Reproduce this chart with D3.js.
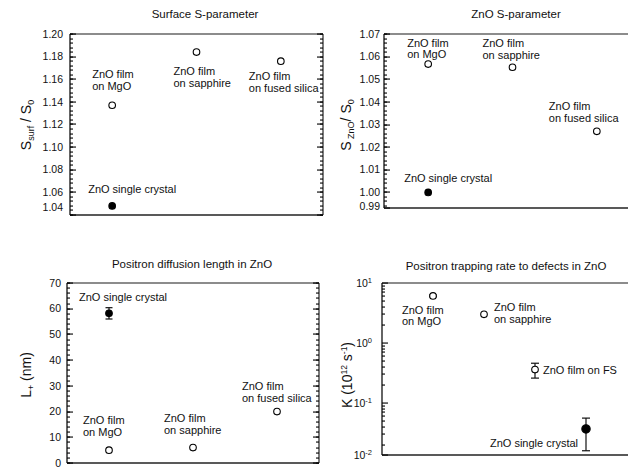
<!DOCTYPE html>
<html lang="en">
<head>
<meta charset="UTF-8">
<title>ZnO positron panels</title>
<style>
    body { margin: 0; background: #fff; }
    text { font-family: "Liberation Sans", Arial, sans-serif; fill: #111; }
    .title { font-size: 11.5px; }
    .ticklbl { font-size: 10.5px; }
    .lbl { font-size: 11px; }
    .ytitle { font-size: 14px; }
</style>
</head>
<body>
<div id="container"></div>
<script src="https://cdn.jsdelivr.net/npm/d3@7"></script>
<script>

// films, left to right
var films = ["ZnO film on MgO", "ZnO film on sapphire", "ZnO film on fused silica"];

// surface S-parameter (S_surf / S_0)
var surfS = [1.137, 1.184, 1.176];
var surfSErr = [0.0010, 0.0010, 0.0010];
var surfSCrystal = 1.048;

// ZnO S-parameter (S_ZnO / S_0)
var znoS = [1.0567, 1.0553, 1.027];
var znoSErr = [0.0006, 0.0006, 0.0006];
var znoSCrystal = 1.000;

// positron diffusion length (nm)
var diffLen = [5, 6, 20];
var diffLenCrystal = 58.2;
var diffLenCrystalErr = 2.2;

// trapping rate (10^12 s^-1), columns: MgO, sapphire, FS, single crystal
var trapCols = ["MgO", "sapphire", "FS", "crystal"];
var trapRate = [6.1, 3.0, 0.36, 0.037];
var trapLow = [5.9, 2.85, 0.26, 0.016];
var trapHigh = [6.3, 3.15, 0.46, 0.056];

// tick labels
var surfTicks = [1.04, 1.06, 1.08, 1.10, 1.12, 1.14, 1.16, 1.18, 1.20];
var znoTicks = [0.99, 1.00, 1.01, 1.02, 1.03, 1.04, 1.05, 1.06, 1.07];
var diffTicks = [0, 10, 20, 30, 40, 50, 60, 70];
var trapTicks = [0.01, 0.1, 1, 10];

var svg = d3.select("#container").append("svg")
    .attr("width", 628).attr("height", 470);

// tick marks go in their own layer, drawn last
var tickJobs = [];

// inward ticks on a vertical edge as thin rects; dir = +1 points right, -1 points left
function ticksAt(g, xEdge, yPos, values, len, dir) {
    values.forEach(function (d) {
        var yy = Math.round(yPos(d));
        g.append("rect")
            .attr("x", dir > 0 ? xEdge : xEdge - len)
            .attr("y", yy - 0.5)
            .attr("width", len)
            .attr("height", 1.1)
            .attr("fill", "#000");
    });
}

function hline(g, x1, x2, y, color, w) {
    g.append("line").attr("x1", x1).attr("x2", x2).attr("y1", y).attr("y2", y)
        .attr("stroke", color).attr("stroke-width", w);
}
function vline(g, x, y1, y2, color, w) {
    g.append("line").attr("x1", x).attr("x2", x).attr("y1", y1).attr("y2", y2)
        .attr("stroke", color).attr("stroke-width", w);
}

// generic frame + y axis
function drawFrame(p) {
    var g = svg.append("g");
    var clampY = function (v) { return Math.min(p.y(v), p.bottom); };
    var inside = function (v) { return p.y(v) <= p.bottom + 0.5 && p.y(v) >= p.top - 0.5; };
    var minor = p.minor.filter(inside);
    var rawY = function (d) { return p.y(d); };

    tickJobs.push([p.left, rawY, minor, 3, 1]);
    tickJobs.push([p.left, clampY, p.ticks, 6, 1]);
    if (p.rightAxis) {
        tickJobs.push([p.right, rawY, minor, 3, -1]);
        tickJobs.push([p.right, clampY, p.ticks, 6, -1]);
    }

    // tick labels
    var lbl = g.selectAll(null).data(p.ticks).enter().append("text")
        .attr("class", "ticklbl")
        .attr("x", p.left - p.pad)
        .attr("y", function (d) { return Math.min(clampY(d), p.labelFloor); })
        .attr("dy", "0.35em")
        .attr("text-anchor", "end");
    if (p.sup) {
        lbl.each(function (d) {
            var t = d3.select(this);
            t.append("tspan").text("10");
            t.append("tspan").attr("dy", "-0.45em").attr("font-size", "7.5px").text(Math.round(Math.log10(d)));
        });
    } else {
        lbl.text(p.fmt);
    }

    // frame lines
    hline(g, p.left, p.right, p.top, "#666", 1.6);
    hline(g, p.left, p.right, p.bottom, "#222", 1.3);
    vline(g, p.left, p.top, p.bottom, "#111", 1.3);
    if (p.rightAxis) vline(g, p.right, p.top, p.bottom, "#333", 1.3);

    svg.append("text").attr("class", "title")
        .attr("x", p.titleX).attr("y", p.titleY).attr("text-anchor", "middle").text(p.title);
    return g;
}

function marker(g, x, y, filled, r) {
    g.append("circle").attr("cx", x).attr("cy", y).attr("r", r || 3.3)
        .attr("fill", filled ? "#000" : "#fff").attr("stroke", "#000").attr("stroke-width", 1.1);
}

function errBar(g, x, y1, y2, w) {
    vline(g, x, y1, y2, "#111", 1.2);
    hline(g, x - w, x + w, y1, "#111", 1.2);
    hline(g, x - w, x + w, y2, "#111", 1.2);
}

// one- or two-line label
function label(g, x, y, lines, anchor) {
    var t = g.append("text").attr("class", "lbl").attr("x", x).attr("y", y)
        .attr("text-anchor", anchor || "start");
    lines.forEach(function (s, i) {
        t.append("tspan").attr("x", x).attr("dy", i === 0 ? "0.35em" : "1.05em").text(s);
    });
}

function splitFilm(s) {
    return ["ZnO film", s.replace("ZnO film ", "")];
}

// ---------- panel 1: surface S ----------
(function () {
    var p = {
        left: 70, right: 323, top: 34, bottom: 215, labelFloor: 207, pad: 7,
        rightAxis: true, title: "Surface S-parameter", titleX: 205, titleY: 18,
        ticks: surfTicks, fmt: d3.format(".2f"),
        minor: d3.range(1.04, 1.2001, 0.004)
    };
    p.y = d3.scaleLinear().domain([1.04, 1.20]).range([p.bottom, p.top]);
    var x = d3.scalePoint().domain(films).range([p.left, p.right]).padding(0.5);
    var g = drawFrame(p);

    films.forEach(function (f, i) {
        errBar(g, x(f), p.y(surfS[i] + surfSErr[i]), p.y(surfS[i] - surfSErr[i]), 3);
        marker(g, x(f), p.y(surfS[i]), false);
    });
    marker(g, x(films[0]), p.y(surfSCrystal), true);

    var offs = [[-20, -31], [-23, 19], [-32, 15]];
    films.forEach(function (f, i) {
        label(g, x(f) + offs[i][0], p.y(surfS[i]) + offs[i][1], splitFilm(f));
    });
    label(g, x(films[0]) - 24, p.y(surfSCrystal) - 17, ["ZnO single crystal"]);

    var t = svg.append("text").attr("class", "ytitle").attr("text-anchor", "middle")
        .attr("transform", "translate(31,125) rotate(-90)");
    t.append("tspan").text("S");
    t.append("tspan").attr("font-size", "9px").attr("dy", "3").text("surf");
    t.append("tspan").attr("dy", "-3").text(" / S");
    t.append("tspan").attr("font-size", "9px").attr("dy", "3").text("0");
})();

// ---------- panel 2: ZnO S ----------
(function () {
    var p = {
        left: 384, right: 640, top: 34, bottom: 208, labelFloor: 206, pad: 4,
        rightAxis: false, title: "ZnO S-parameter", titleX: 516, titleY: 18,
        ticks: znoTicks, fmt: d3.format(".2f"),
        minor: d3.range(0.99, 1.0701, 0.002)
    };
    p.y = d3.scaleLinear().domain([0.99, 1.07]).range([215, p.top]);
    var x = d3.scalePoint().domain(films).range([386, 639]).padding(0.5);
    var g = drawFrame(p);

    films.forEach(function (f, i) {
        errBar(g, x(f), p.y(znoS[i] + znoSErr[i]), p.y(znoS[i] - znoSErr[i]), 3);
        marker(g, x(f), p.y(znoS[i]), false);
    });
    marker(g, x(films[0]), p.y(znoSCrystal), true);

    var offs = [[-21, -21], [-30, -24], [-48, -25]];
    films.forEach(function (f, i) {
        label(g, x(f) + offs[i][0], p.y(znoS[i]) + offs[i][1], splitFilm(f));
    });
    label(g, x(films[0]) - 24, p.y(znoSCrystal) - 14, ["ZnO single crystal"]);

    var t = svg.append("text").attr("class", "ytitle").attr("text-anchor", "middle")
        .attr("transform", "translate(351,125) rotate(-90)");
    t.append("tspan").text("S");
    t.append("tspan").attr("font-size", "9px").attr("dy", "3").text(" ZnO");
    t.append("tspan").attr("dy", "-3").text("/ S");
    t.append("tspan").attr("font-size", "9px").attr("dy", "3").text("0");
})();

// ---------- panel 3: diffusion length ----------
(function () {
    var p = {
        left: 67, right: 319, top: 283, bottom: 463, labelFloor: 463, pad: 6,
        rightAxis: true, title: "Positron diffusion length in ZnO", titleX: 192, titleY: 268,
        ticks: diffTicks, fmt: d3.format("d"),
        minor: d3.range(0, 70.1, 2)
    };
    p.y = d3.scaleLinear().domain([0, 70]).range([p.bottom, p.top]);
    var x = d3.scalePoint().domain(films).range([p.left, p.right]).padding(0.5);
    var g = drawFrame(p);

    films.forEach(function (f, i) {
        marker(g, x(f), p.y(diffLen[i]), false);
    });
    errBar(g, x(films[0]), p.y(diffLenCrystal + diffLenCrystalErr), p.y(diffLenCrystal - diffLenCrystalErr), 3.5);
    marker(g, x(films[0]), p.y(diffLenCrystal), true);

    var offs = [[-26, -30], [-29, -29], [-35, -25]];
    films.forEach(function (f, i) {
        label(g, x(f) + offs[i][0], p.y(diffLen[i]) + offs[i][1], splitFilm(f));
    });
    label(g, x(films[0]) - 30, p.y(diffLenCrystal) - 16, ["ZnO single crystal"]);

    var t = svg.append("text").attr("class", "ytitle").attr("text-anchor", "middle")
        .attr("transform", "translate(31,375) rotate(-90)");
    t.append("tspan").text("L");
    t.append("tspan").attr("font-size", "9px").attr("dy", "3").text("+");
    t.append("tspan").attr("dy", "-3").text(" (nm)");
})();

// ---------- panel 4: trapping rate ----------
(function () {
    var minor = [];
    [0.01, 0.1, 1].forEach(function (d) {
        d3.range(2, 10).forEach(function (k) { minor.push(d * k); });
    });
    var p = {
        left: 382, right: 640, top: 283, bottom: 455, labelFloor: 455, pad: 10,
        rightAxis: false, title: "Positron trapping rate to defects in ZnO", titleX: 506, titleY: 270,
        ticks: trapTicks, sup: true,
        minor: minor
    };
    p.y = d3.scaleLog().domain([0.01, 10]).range([463, p.top]);
    var x = d3.scalePoint().domain(trapCols).range([p.left, 637]).padding(1);
    var g = drawFrame(p);

    trapCols.forEach(function (c, i) {
        var w = i === 1 ? 3 : 4;
        errBar(g, x(c), p.y(trapHigh[i]), p.y(trapLow[i]), w);
        marker(g, x(c), p.y(trapRate[i]), i === 3, i === 3 ? 4.2 : 3.3);
    });

    label(g, x("MgO") - 31, p.y(trapRate[0]) + 14, ["ZnO film", "on MgO"]);
    label(g, x("sapphire") + 10, p.y(trapRate[1]) - 7, ["ZnO film", "on sapphire"]);
    label(g, x("FS") + 8, p.y(trapRate[2]) + 1, ["ZnO film on FS"]);
    label(g, x("crystal") - 8, p.y(trapRate[3]) + 14, ["ZnO single crystal"], "end");

    var t = svg.append("text").attr("class", "ytitle").attr("text-anchor", "middle")
        .attr("transform", "translate(352,375) rotate(-90)");
    t.append("tspan").text("K (10");
    t.append("tspan").attr("font-size", "8.5px").attr("dy", "-5").text("12");
    t.append("tspan").attr("dy", "5").text(" s");
    t.append("tspan").attr("font-size", "8.5px").attr("dy", "-5").text("-1");
    t.append("tspan").attr("dy", "5").text(")");
})();

// tick layer on top of everything
var tickLayer = svg.append("g");
tickJobs.forEach(function (j) {
    ticksAt(tickLayer, j[0], j[1], j[2], j[3], j[4]);
});

</script>
</body>
</html>
